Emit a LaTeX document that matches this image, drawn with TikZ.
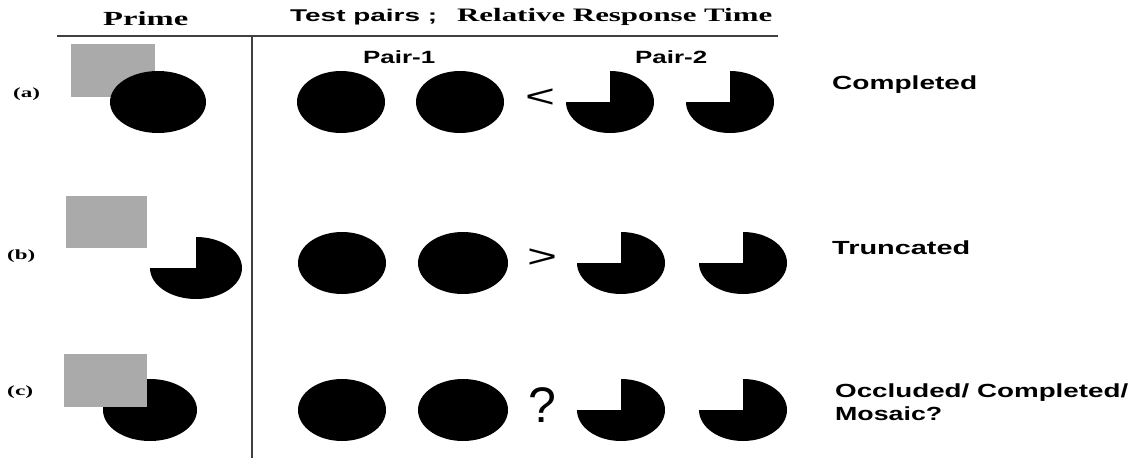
\documentclass[tikz,border=0pt]{standalone}
\usepackage{fontspec}
\setmainfont{Liberation Serif}
\setsansfont{Liberation Sans}
\usepackage{graphicx}
\definecolor{occgray}{RGB}{170,170,170}
\newcommand{\fitw}[2]{\resizebox{#1}{\height}{#2}}
% pie with the upper left quarter cut away: centre, x radius
\newcommand{\pacman}[2]{\fill (#1) -- ++(0,-31) arc [start angle=270, end angle=540, x radius=#2, y radius=31] -- cycle;}

\begin{document}
\begin{tikzpicture}[x=1pt,y=-1pt,
    head/.style={inner sep=0pt, anchor=base west, font=\bfseries\fontsize{19}{22}\selectfont},
    lab/.style={inner sep=0pt, anchor=base west, font=\sffamily\bfseries\fontsize{19}{22}\selectfont},
    rowlab/.style={inner sep=0pt, anchor=base west, font=\bfseries\fontsize{14}{16}\selectfont},
    rel/.style={inner sep=0pt, font=\sffamily\fontsize{32}{36}\selectfont}]
    \useasboundingbox (0,0) rectangle (1137,458);

    % table rules
    \coordinate (hl) at (57,36);
    \coordinate (hr) at (778,36);
    \coordinate (vt) at (252,36);
    \coordinate (vb) at (252,458);
    \draw [line width=1.2pt, black!75] (hl) -- (hr);
    \draw [line width=1.2pt, black!75] (vt) -- (vb);

    % headings
    \node [head, font=\bfseries\fontsize{20}{24}\selectfont] (prime) at (103,25) {\fitw{85pt}{Prime}};
    \node [head, font=\sffamily\bfseries\fontsize{17}{20}\selectfont] (testhd) at (290,21) {\fitw{147pt}{Test pairs ;}};
    \node [head] (resphd) at (457,21) {\fitw{315pt}{Relative Response Time}};
    \node [lab, font=\sffamily\bfseries\fontsize{17.7}{20}\selectfont] (pair1) at (363,63) {\fitw{72pt}{Pair-1}};
    \node [lab, font=\sffamily\bfseries\fontsize{17.7}{20}\selectfont] (pair2) at (635,63) {\fitw{72pt}{Pair-2}};

    % row labels
    \node [rowlab] (rowa) at (13,97) {\fitw{27pt}{(a)}};
    \node [rowlab] (rowb) at (7,259) {\fitw{28pt}{(b)}};
    \node [rowlab] (rowc) at (7,395) {\fitw{26pt}{(c)}};

    % primes
    \fill [occgray] (71,44) rectangle (155,97);
    \fill (158,102) ellipse [x radius=48, y radius=31];

    \fill [occgray] (66,196) rectangle (147,248);
    \pacman{196,268}{46}

    \fill (150,410) ellipse [x radius=47, y radius=31];
    \fill [occgray] (64,354) rectangle (147,407);

    % row (a)
    \coordinate (a1) at (341,102);
    \coordinate (a2) at (460,102);
    \coordinate (a3) at (610,102);
    \coordinate (a4) at (730,102);
    \fill (a1) ellipse [x radius=44, y radius=31];
    \fill (a2) ellipse [x radius=44, y radius=31];
    \pacman{a3}{44}
    \pacman{a4}{44}
    \node [rel] (lt) at (540,98) {\fitw{30pt}{<}};
    \node [lab] (compl) at (832,89) {\fitw{145pt}{Completed}};

    % row (b)
    \coordinate (b1) at (342,263);
    \coordinate (b2) at (463,263);
    \coordinate (b3) at (621,263);
    \coordinate (b4) at (743,263);
    \fill (b1) ellipse [x radius=44, y radius=31];
    \fill (b2) ellipse [x radius=45, y radius=31];
    \pacman{b3}{44}
    \pacman{b4}{44}
    \node [rel] (gt) at (542,258) {\fitw{30pt}{>}};
    \node [lab] (trunc) at (832,254) {\fitw{138pt}{Truncated}};

    % row (c)
    \coordinate (c1) at (342,410);
    \coordinate (c2) at (463,410);
    \coordinate (c3) at (621,410);
    \coordinate (c4) at (743,410);
    \fill (c1) ellipse [x radius=44, y radius=31];
    \fill (c2) ellipse [x radius=45, y radius=31];
    \pacman{c3}{44}
    \pacman{c4}{44}
    \node [rel, anchor=base west, font=\sffamily\fontsize{50}{54}\selectfont] (qm) at (528,422) {?};
    \node [lab] (occl) at (835,397) {\fitw{293pt}{Occluded/ Completed/}};
    \node [lab] (mosaic) at (835,420) {\fitw{107pt}{Mosaic?}};
\end{tikzpicture}
\end{document}
